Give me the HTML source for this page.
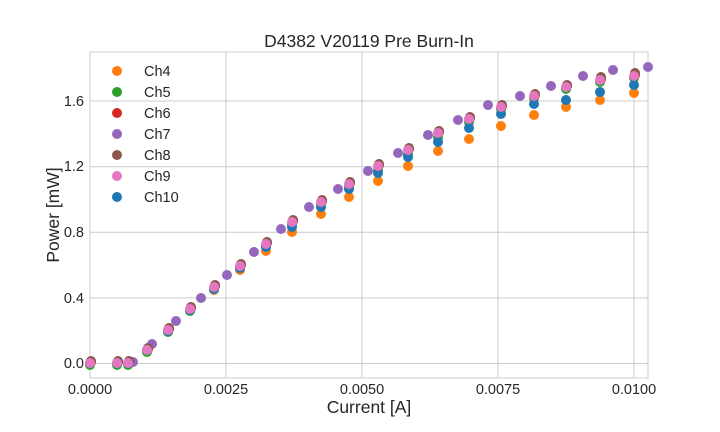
<!DOCTYPE html>
<html><head><meta charset="utf-8"><style>body{margin:0;background:#fff}svg{display:block;font-family:"Liberation Sans",sans-serif}</style></head><body>
<svg width="720" height="432" xmlns="http://www.w3.org/2000/svg">
<rect width="720" height="432" fill="#fff"/>
<g stroke="#cccccc" stroke-width="1">
<line x1="226" y1="52" x2="226" y2="378"/><line x1="362" y1="52" x2="362" y2="378"/><line x1="498" y1="52" x2="498" y2="378"/><line x1="634" y1="52" x2="634" y2="378"/>
<line x1="90" y1="363.5" x2="648" y2="363.5"/><line x1="90" y1="297.9" x2="648" y2="297.9"/><line x1="90" y1="232.3" x2="648" y2="232.3"/><line x1="90" y1="166.7" x2="648" y2="166.7"/><line x1="90" y1="101" x2="648" y2="101"/>
<rect x="90" y="52" width="558" height="326" fill="none"/>
</g>
<g font-size="14.5" fill="#262626" text-anchor="end">
<text x="84" y="368">0.0</text><text x="84" y="303">0.4</text><text x="84" y="237">0.8</text><text x="84" y="171">1.2</text><text x="84" y="106">1.6</text>
</g>
<g font-size="14.5" fill="#262626" text-anchor="middle">
<text x="90" y="394">0.0000</text><text x="226" y="394">0.0025</text><text x="362" y="394">0.0050</text><text x="498" y="394">0.0075</text><text x="634" y="394">0.0100</text>
</g>
<text x="369" y="47" font-size="17.5" fill="#262626" text-anchor="middle">D4382 V20119 Pre Burn-In</text>
<text x="369" y="413" font-size="17.5" fill="#262626" text-anchor="middle">Current [A]</text>
<text transform="translate(59,215) rotate(-90)" font-size="17.5" fill="#262626" text-anchor="middle">Power [mW]</text>

<g fill="#ff7f0e">
<circle cx="90" cy="363" r="5"/><circle cx="117" cy="363" r="5"/><circle cx="128" cy="363" r="5"/><circle cx="147" cy="350" r="5"/><circle cx="168" cy="331" r="5"/><circle cx="190" cy="310" r="5"/><circle cx="214" cy="290" r="5"/><circle cx="240" cy="270" r="5"/><circle cx="266" cy="251" r="5"/><circle cx="292" cy="232" r="5"/><circle cx="321" cy="214" r="5"/><circle cx="349" cy="197" r="5"/><circle cx="378" cy="181" r="5"/><circle cx="408" cy="166" r="5"/><circle cx="438" cy="151" r="5"/><circle cx="469" cy="139" r="5"/><circle cx="501" cy="126" r="5"/><circle cx="534" cy="115" r="5"/><circle cx="566" cy="107" r="5"/><circle cx="600" cy="100" r="5"/><circle cx="634" cy="93" r="5"/>
</g>
<g fill="#2ca02c">
<circle cx="90" cy="365" r="5"/><circle cx="117" cy="365" r="5"/><circle cx="128" cy="365" r="5"/><circle cx="147" cy="352" r="5"/><circle cx="168" cy="332" r="5"/><circle cx="190" cy="311" r="5"/><circle cx="214" cy="289" r="5"/><circle cx="240" cy="268" r="5"/><circle cx="266" cy="246" r="5"/><circle cx="292" cy="224" r="5"/><circle cx="321" cy="204" r="5"/><circle cx="349" cy="187" r="5"/><circle cx="378" cy="170" r="5"/><circle cx="408" cy="154" r="5"/><circle cx="438" cy="137" r="5"/><circle cx="469" cy="122" r="5"/><circle cx="501" cy="109" r="5"/><circle cx="534" cy="98" r="5"/><circle cx="566" cy="89" r="5"/><circle cx="600" cy="82" r="5"/><circle cx="634" cy="78" r="5"/>
</g>
<g fill="#d62728">
<circle cx="91" cy="362" r="5"/><circle cx="118" cy="362" r="5"/><circle cx="129" cy="362" r="5"/><circle cx="148" cy="349" r="5"/><circle cx="169" cy="329" r="5"/><circle cx="191" cy="308" r="5"/><circle cx="215" cy="286" r="5"/><circle cx="241" cy="265" r="5"/><circle cx="267" cy="243" r="5"/><circle cx="293" cy="221" r="5"/><circle cx="322" cy="201" r="5"/><circle cx="350" cy="183" r="5"/><circle cx="379" cy="165" r="5"/><circle cx="409" cy="149" r="5"/><circle cx="439" cy="132" r="5"/><circle cx="470" cy="118" r="5"/><circle cx="502" cy="106" r="5"/><circle cx="535" cy="95" r="5"/><circle cx="567" cy="86" r="5"/><circle cx="601" cy="79" r="5"/><circle cx="635" cy="75" r="5"/>
</g>
<g fill="#9467bd">
<circle cx="133" cy="362" r="5"/><circle cx="152" cy="344" r="5"/><circle cx="176" cy="321" r="5"/><circle cx="201" cy="298" r="5"/><circle cx="227" cy="275" r="5"/><circle cx="254" cy="252" r="5"/><circle cx="281" cy="229" r="5"/><circle cx="309" cy="207" r="5"/><circle cx="338" cy="189" r="5"/><circle cx="368" cy="171" r="5"/><circle cx="398" cy="153" r="5"/><circle cx="428" cy="135" r="5"/><circle cx="458" cy="120" r="5"/><circle cx="488" cy="105" r="5"/><circle cx="520" cy="96" r="5"/><circle cx="551" cy="86" r="5"/><circle cx="583" cy="76" r="5"/><circle cx="613" cy="70" r="5"/><circle cx="648" cy="67" r="5"/>
</g>
<g fill="#8c564b">
<circle cx="91" cy="361" r="5"/><circle cx="118" cy="361" r="5"/><circle cx="129" cy="361" r="5"/><circle cx="148" cy="348" r="5"/><circle cx="169" cy="328" r="5"/><circle cx="191" cy="307" r="5"/><circle cx="215" cy="285" r="5"/><circle cx="241" cy="264" r="5"/><circle cx="267" cy="242" r="5"/><circle cx="293" cy="220" r="5"/><circle cx="322" cy="200" r="5"/><circle cx="350" cy="182" r="5"/><circle cx="379" cy="164" r="5"/><circle cx="409" cy="148" r="5"/><circle cx="439" cy="131" r="5"/><circle cx="470" cy="117" r="5"/><circle cx="502" cy="105" r="5"/><circle cx="535" cy="94" r="5"/><circle cx="567" cy="85" r="5"/><circle cx="601" cy="77" r="5"/><circle cx="635" cy="73" r="5"/>
</g>
<g fill="#1f77b4">
<circle cx="90" cy="363" r="5"/><circle cx="117" cy="363" r="5"/><circle cx="128" cy="363" r="5"/><circle cx="147" cy="350" r="5"/><circle cx="168" cy="331" r="5"/><circle cx="190" cy="310" r="5"/><circle cx="214" cy="289" r="5"/><circle cx="240" cy="268" r="5"/><circle cx="266" cy="247" r="5"/><circle cx="292" cy="227" r="5"/><circle cx="321" cy="207" r="5"/><circle cx="349" cy="189" r="5"/><circle cx="378" cy="173" r="5"/><circle cx="408" cy="157" r="5"/><circle cx="438" cy="142" r="5"/><circle cx="469" cy="128" r="5"/><circle cx="501" cy="114" r="5"/><circle cx="534" cy="104" r="5"/><circle cx="566" cy="100" r="5"/><circle cx="600" cy="92" r="5"/><circle cx="634" cy="85" r="5"/>
</g>
<g fill="#e377c2">
<circle cx="90" cy="363" r="5"/><circle cx="117" cy="363" r="5"/><circle cx="128" cy="363" r="5"/><circle cx="147" cy="350" r="5"/><circle cx="168" cy="330" r="5"/><circle cx="190" cy="309" r="5"/><circle cx="214" cy="287" r="5"/><circle cx="240" cy="266" r="5"/><circle cx="266" cy="244" r="5"/><circle cx="292" cy="222" r="5"/><circle cx="321" cy="202" r="5"/><circle cx="349" cy="184" r="5"/><circle cx="378" cy="166" r="5"/><circle cx="408" cy="150" r="5"/><circle cx="438" cy="133" r="5"/><circle cx="469" cy="119" r="5"/><circle cx="501" cy="107" r="5"/><circle cx="534" cy="96" r="5"/><circle cx="566" cy="87" r="5"/><circle cx="600" cy="80" r="5"/><circle cx="634" cy="76" r="5"/>
</g>

<g font-size="14.5" fill="#262626">
<circle cx="117" cy="71" r="5" fill="#ff7f0e"/><text x="144" y="76">Ch4</text>
<circle cx="117" cy="92" r="5" fill="#2ca02c"/><text x="144" y="97">Ch5</text>
<circle cx="117" cy="113" r="5" fill="#d62728"/><text x="144" y="118">Ch6</text>
<circle cx="117" cy="134" r="5" fill="#9467bd"/><text x="144" y="139">Ch7</text>
<circle cx="117" cy="155" r="5" fill="#8c564b"/><text x="144" y="160">Ch8</text>
<circle cx="117" cy="176" r="5" fill="#e377c2"/><text x="144" y="181">Ch9</text>
<circle cx="117" cy="197" r="5" fill="#1f77b4"/><text x="144" y="202">Ch10</text>
</g>
</svg>
</body></html>
